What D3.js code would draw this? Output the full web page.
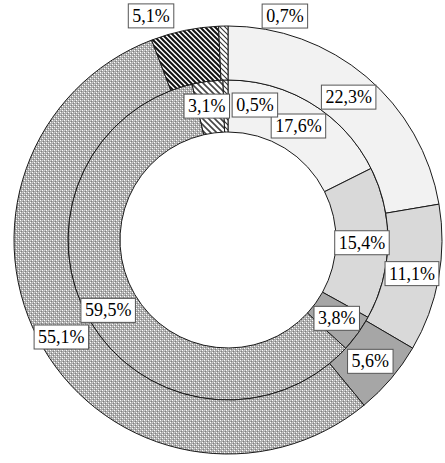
<!DOCTYPE html>
<html>
<head>
<meta charset="utf-8">
<script src="https://cdn.jsdelivr.net/npm/d3@7"></script>
<style>
  html, body { margin: 0; padding: 0; background: #fff; }
  svg { display: block; }
</style>
</head>
<body>
<svg id="chart" width="445" height="463"></svg>
<script>
// ---- data ----
const categories = ["Category 1", "Category 2", "Category 3", "Category 4", "Category 5", "Category 6"];
const outerValues = [22.3, 11.1, 5.6, 55.1, 5.1, 0.7];
const innerValues = [17.6, 15.4, 3.8, 59.5, 3.1, 0.5];

// ---- layout / style (not data) ----
const W = 445, H = 463;
const cx = 228, cy = 240;
const rHole = 108, rMid = 160, rOuter = 214;
const outerFills = ["#f2f2f2", "#d9d9d9", "#a6a6a6", "url(#dots)", "url(#hatchDense)", "url(#hatchThin)"];
const innerFills = ["#f2f2f2", "#d9d9d9", "#a6a6a6", "url(#dots)", "url(#hatchMed)", "url(#hatchThin)"];
// label nudges (pixels) from the arc centroid
const outerNudge = [[0, 0], [0, 0], [0, 0], [-5, 3], [-39, -41], [61, -37]];
const innerNudge = [[0, 0], [0, 0], [0, 0], [-4, 3], [-4, -1], [29, -1]];

const svg = d3.select("#chart");
const defs = svg.append("defs");

// dotted pattern
const dots = defs.append("pattern").attr("id", "dots")
  .attr("patternUnits", "userSpaceOnUse").attr("width", 4).attr("height", 4);
dots.append("rect").attr("width", 4).attr("height", 4).attr("fill", "#aaaaaa");
[[0, 0, "#ffffff"], [2, 2, "#ffffff"], [1, 3, "#808080"], [3, 1, "#808080"], [2, 0, "#d0d0d0"], [0, 2, "#d0d0d0"]]
  .forEach(([x, y, c]) => dots.append("rect").attr("x", x).attr("y", y).attr("width", 1).attr("height", 1).attr("fill", c));

function hatch(id, size, color, width) {
  const p = defs.append("pattern").attr("id", id)
    .attr("patternUnits", "userSpaceOnUse").attr("width", size).attr("height", size);
  p.append("rect").attr("width", size).attr("height", size).attr("fill", "#fff");
  p.append("path")
    .attr("d", `M0,0 L${size},${size} M${-size / 2},${size / 2} L${size / 2},${size * 1.5} M${size / 2},${-size / 2} L${size * 1.5},${size / 2}`)
    .attr("stroke", color).attr("stroke-width", width);
}
hatch("hatchDense", 5, "#111", 2);
hatch("hatchMed", 6, "#444", 1.6);
hatch("hatchThin", 5, "#333", 1.1);

const pie = d3.pie().sort(null).value(d => d).startAngle(0).endAngle(2 * Math.PI);

const g = svg.append("g").attr("transform", `translate(${cx},${cy})`);

function ring(values, r0, r1, fills, nudges) {
  const arc = d3.arc().innerRadius(r0).outerRadius(r1);
  const arcs = pie(values);
  g.append("g").selectAll("path").data(arcs).join("path")
    .attr("d", arc)
    .attr("fill", (d, i) => fills[i])
    .attr("stroke", "#1a1a1a")
    .attr("stroke-width", 1);
  return arcs.map((d, i) => {
    const c = arc.centroid(d);
    return { x: c[0] + nudges[i][0], y: c[1] + nudges[i][1], v: values[i] };
  });
}

const innerLabels = ring(innerValues, rHole, rMid, innerFills, innerNudge);
const outerLabels = ring(outerValues, rMid, rOuter, outerFills, outerNudge);

const fmt = v => v.toFixed(1).replace(".", ",") + "%";
const lg = g.append("g");
[...innerLabels, ...outerLabels].forEach(l => {
  const grp = lg.append("g").attr("transform", `translate(${l.x},${l.y})`);
  const rect = grp.append("rect");
  const t = grp.append("text")
    .attr("text-anchor", "middle")
    .attr("dominant-baseline", "central")
    .attr("font-family", "'Liberation Serif', 'Times New Roman', serif")
    .attr("font-size", 18)
    .attr("fill", "#000")
    .text(fmt(l.v));
  const bb = t.node().getBBox();
  const padX = 4, h = 24;
  rect.attr("x", bb.x - padX).attr("y", -h / 2)
    .attr("width", bb.width + 2 * padX).attr("height", h)
    .attr("fill", "#fff").attr("stroke", "#555").attr("stroke-width", 1);
});
</script>
</body>
</html>
